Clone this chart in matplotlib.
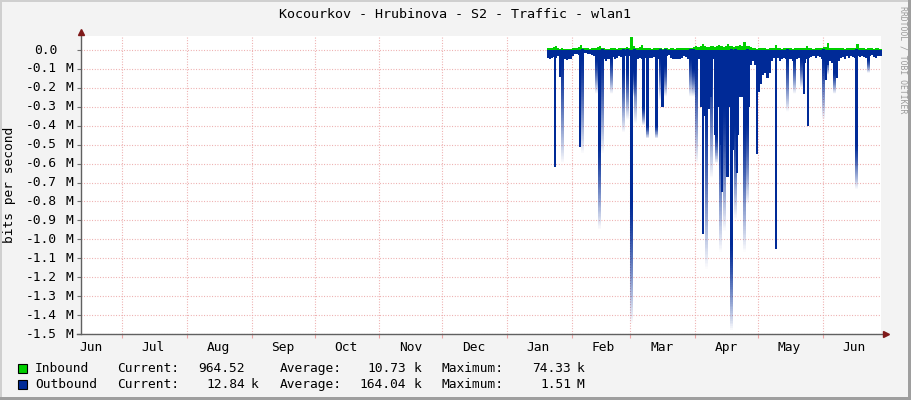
import numpy as np
import pandas as pd
import matplotlib
matplotlib.use('Agg')
import matplotlib.pyplot as plt
import matplotlib.dates as mdates
from matplotlib.patches import Rectangle

plt.rcParams['font.family'] = 'DejaVu Sans Mono'

W, H = 911, 400

# daily traffic from 2021-01-20 to 2021-06-28, in Mbit/s (outbound is drawn below zero)
first_day = '2021-01-20'
outbound = [
    -0.04, -0.045, -0.04, -0.035, -0.04, -0.03, -0.035, -0.03, -0.05, -0.055,
    -0.05, -0.045, -0.03, -0.02, -0.02, -0.025, -0.02, -0.02, -0.015, -0.02,
    -0.02, -0.025, -0.03, -0.04, -0.05, -0.035, -0.04, -0.05, -0.06, -0.045,
    -0.04, -0.035, -0.05, -0.04, -0.03, -0.035, -0.03, -0.03, -0.025, -0.03,
    -0.03, -0.04, -0.035, -0.05, -0.04, -0.045, -0.06, -0.04, -0.05, -0.04,
    -0.04, -0.035, -0.04, -0.045, -0.05, -0.06, -0.04, -0.03, -0.025, -0.04,
    -0.05, -0.05, -0.045, -0.05, -0.04, -0.03, -0.035, -0.05, -0.04, -0.05,
    -0.05, -0.06, -0.05, -0.3, -0.32, -0.35, -0.3, -0.31, -0.25, -0.05,
    -0.45, -0.4, -0.3, -0.5, -0.3, -0.3, -0.45, -0.3, -0.5, -0.4,
    -0.35, -0.45, -0.25, -0.25, -0.35, -0.38, -0.3, -0.08, -0.06, -0.08,
    -0.1, -0.22, -0.18, -0.13, -0.12, -0.15, -0.12, -0.06, -0.04, -0.06,
    -0.04, -0.06, -0.05, -0.04, -0.05, -0.04, -0.05, -0.06, -0.05, -0.045,
    -0.04, -0.05, -0.06, -0.07, -0.05, -0.04, -0.035, -0.03, -0.04, -0.03,
    -0.035, -0.05, -0.06, -0.04, -0.08, -0.06, -0.07, -0.05, -0.04, -0.06,
    -0.04, -0.035, -0.05, -0.03, -0.04, -0.03, -0.035, -0.04, -0.03, -0.035,
    -0.03, -0.035, -0.04, -0.03, -0.03, -0.025, -0.035, -0.04, -0.03, -0.03,
]
inbound = [
    0.008, 0.01, 0.012, 0.015, 0.023, 0.01, 0.006, 0.008, 0.005, 0.006,
    0.007, 0.006, 0.008, 0.01, 0.012, 0.015, 0.026, 0.012, 0.008, 0.01,
    0.006, 0.008, 0.01, 0.012, 0.015, 0.021, 0.01, 0.008, 0.006, 0.007,
    0.008, 0.012, 0.01, 0.006, 0.008, 0.01, 0.012, 0.01, 0.015, 0.012,
    0.07, 0.02, 0.01, 0.012, 0.015, 0.026, 0.012, 0.01, 0.008, 0.01,
    0.006, 0.008, 0.01, 0.012, 0.008, 0.006, 0.01, 0.008, 0.007, 0.01,
    0.008, 0.006, 0.01, 0.012, 0.008, 0.01, 0.012, 0.008, 0.01, 0.012,
    0.015, 0.02, 0.018, 0.022, 0.03, 0.02, 0.018, 0.015, 0.02, 0.022,
    0.018, 0.02, 0.025, 0.022, 0.018, 0.02, 0.03, 0.022, 0.02, 0.018,
    0.02, 0.022, 0.025, 0.02, 0.044, 0.022, 0.02, 0.018, 0.01, 0.008,
    0.006, 0.008, 0.01, 0.012, 0.008, 0.006, 0.008, 0.01, 0.012, 0.026,
    0.01, 0.008, 0.006, 0.008, 0.01, 0.012, 0.008, 0.006, 0.008, 0.01,
    0.012, 0.01, 0.008, 0.01, 0.02, 0.012, 0.008, 0.006, 0.008, 0.01,
    0.01, 0.012, 0.014, 0.015, 0.035, 0.012, 0.01, 0.008, 0.01, 0.012,
    0.01, 0.008, 0.006, 0.008, 0.01, 0.012, 0.01, 0.008, 0.03, 0.012,
    0.01, 0.008, 0.006, 0.008, 0.01, 0.008, 0.006, 0.01, 0.008, 0.006,
]

# short outbound peaks: day of year 2021, depth drawn solid, depth where it fades out
spike_day = [22.9, 25.3, 26.3, 34.9, 35.8, 42.5, 43.9, 45.2, 49.9, 55.4,
             57.3, 59.3, 60.5, 61.3, 65.2, 67.0, 71.0, 73.0, 74.3, 75.3,
             87.7, 88.7, 90.2, 93.8, 95.1, 97.6, 99.7, 102.0, 102.9, 103.8,
             105.4, 107.0, 108.0, 109.1, 110.1, 113.4, 114.7, 119.6, 128.6, 133.8,
             137.3, 140.5, 141.8, 143.8, 151.0, 152.4, 153.1, 156.1, 157.8, 167.0,
             172.7]
spike_solid = [-0.616, -0.14, -0.05, -0.51, -0.05, -0.05, -0.5, -0.05, -0.05, -0.1,
               -0.1, -0.8, -0.11, -0.05, -0.3, -0.4, -0.4, -0.05, -0.3, -0.08,
               -0.05, -0.1, -0.06, -0.97, -0.3, -0.1, -0.45, -0.35, -0.75, -0.3,
               -0.67, -1.03, -0.53, -0.4, -0.65, -0.4, -0.38, -0.55, -1.05, -0.05,
               -0.05, -0.05, -0.23, -0.4, -0.05, -0.16, -0.05, -0.12, -0.15, -0.5,
               -0.05]
spike_fade = [-0.616, -0.14, -0.6, -0.51, -0.55, -0.23, -0.95, -0.55, -0.23, -0.44,
              -0.37, -1.45, -0.25, -0.39, -0.4, -0.47, -0.47, -0.27, -0.3, -0.25,
              -0.25, -0.25, -0.6, -0.97, -1.16, -0.68, -0.6, -1.07, -0.75, -0.96,
              -0.67, -1.49, -0.53, -0.9, -0.65, -1.07, -0.82, -0.55, -1.05, -0.33,
              -0.23, -0.2, -0.23, -0.4, -0.37, -0.16, -0.13, -0.23, -0.15, -0.74,
              -0.12]

y_ticks = [0.0, -0.1, -0.2, -0.3, -0.4, -0.5, -0.6, -0.7, -0.8, -0.9,
           -1.0, -1.1, -1.2, -1.3, -1.4, -1.5]

legend_names = ['Inbound', 'Outbound']
legend_colors = ['#00CF00', '#002A97']
cur_vals = ['964.52', '12.84']
cur_units = ['', 'k']
avg_vals = ['10.73', '164.04']
avg_units = ['k', 'k']
max_vals = ['74.33', '1.51']
max_units = ['k', 'M']

IN_COL = '#00CF00'
OUT_COL = '#002A97'
GRID_COL = '#eba3a3'
FS = 9.3
SPIKE_W = 1.0


def fx(x):
    return x / W


def fy(y):
    return 1 - y / H


fig = plt.figure(figsize=(W / 100, H / 100), dpi=100, facecolor='#F3F3F3')

# rrdtool style frame
fig.patches.append(Rectangle((0, fy(2)), 1, 2 / H, transform=fig.transFigure, color='#CFCFCF', lw=0))
fig.patches.append(Rectangle((0, 0), 2 / W, 1, transform=fig.transFigure, color='#CFCFCF', lw=0))
fig.patches.append(Rectangle((0, 0), 1, 3 / H, transform=fig.transFigure, color='#9E9E9E', lw=0))
fig.patches.append(Rectangle((fx(908), 0), 3 / W, 1, transform=fig.transFigure, color='#9E9E9E', lw=0))

left, right, top, bottom = 81, 880.7, 36, 334
ax = fig.add_axes([fx(left), fy(bottom), fx(right - left), (bottom - top) / H])
ax.set_facecolor('white')

jan1 = pd.Timestamp('2021-01-01')
days = pd.date_range(first_day, periods=len(outbound) + 1, freq='D')
out_arr = np.append(outbound, outbound[-1])
in_arr = np.append(inbound, inbound[-1])

ax.fill_between(days, in_arr, 0, step='post', color=IN_COL, lw=0, zorder=2)
ax.fill_between(days, out_arr, 0, step='post', color=OUT_COL, lw=0, zorder=3)

x0 = mdates.date2num(jan1)
n_rows = 150
for d, s, f in zip(spike_day, spike_solid, spike_fade):
    xc = x0 + d
    if f >= s:
        ax.bar(xc, s, width=SPIKE_W, bottom=0, color=OUT_COL, lw=0, zorder=3)
        continue
    # one image from zero down to the tip: solid part, then fading out
    yv = np.linspace(0, f, n_rows)
    tt = np.clip((yv - s) / (f - s), 0, 1)
    img = np.zeros((n_rows, 1, 4))
    img[:, 0, 1] = 42 / 255
    img[:, 0, 2] = 151 / 255
    img[:, 0, 3] = 1 - tt ** 1.4
    ax.imshow(img, extent=[xc - SPIKE_W / 2, xc + SPIKE_W / 2, f, 0], origin='upper',
              aspect='auto', interpolation='nearest', zorder=3)

ax.set_xlim(x0 - 203.6, x0 + 178.6)
ax.set_ylim(-1.5, 0.074)

# grid
ax.xaxis.set_major_locator(mdates.MonthLocator(bymonthday=1))
ax.xaxis.set_minor_locator(mdates.MonthLocator(bymonthday=16))
ax.xaxis.set_major_formatter(plt.NullFormatter())
ax.xaxis.set_minor_formatter(mdates.DateFormatter('%b'))
ax.set_yticks(y_ticks)
ax.set_yticklabels([])
ax.grid(True, which='major', color=GRID_COL, lw=0.8, linestyle=(0, (0.8, 1.6)), zorder=1)
ax.tick_params(axis='x', which='major', length=3, color=GRID_COL, width=0.8)
ax.tick_params(axis='x', which='minor', length=0, pad=5, labelsize=FS)
ax.tick_params(axis='y', which='major', length=3, color='#707070', width=0.8)
for sp in ax.spines.values():
    sp.set_visible(False)

# axes with arrows
ax.plot([0, 0], [0, 1 + 4 / 298], transform=ax.transAxes, color='#606060', lw=1, clip_on=False, zorder=5)
ax.plot([-4 / 800, 1 + 5 / 800], [0, 0], transform=ax.transAxes, color='#606060', lw=1, clip_on=False, zorder=5)
ax.plot([0], [1 + 4 / 298], transform=ax.transAxes, marker='^', ms=4.5, color='#7F1A1A', clip_on=False, zorder=6)
ax.plot([1 + 5 / 800], [0], transform=ax.transAxes, marker='>', ms=4.5, color='#7F1A1A', clip_on=False, zorder=6)

ytr = ax.get_yaxis_transform()
for v in y_ticks:
    ax.text((57 - left) / 800, v, f'{v:.1f}', transform=ytr, ha='right', va='center', fontsize=FS)
    if v != 0:
        ax.text((65 - left) / 800, v, 'M', transform=ytr, ha='left', va='center', fontsize=FS)

fig.text(fx(455), fy(14), 'Kocourkov - Hrubinova - S2 - Traffic - wlan1', ha='center', va='center', fontsize=9.6)
fig.text(fx(10), fy(185), 'bits per second', rotation=90, ha='center', va='center', fontsize=FS)
fig.text(fx(903), fy(60), 'RRDTOOL / TOBI OETIKER', rotation=270, ha='center', va='center', fontsize=5.9, color='#9A9A9A')

# legend
rows_y = [368.3, 384.3]
for i in range(2):
    yy = rows_y[i]
    fig.patches.append(Rectangle((fx(17.5), fy(yy + 4.5)), 9 / W, 9 / H, transform=fig.transFigure,
                                 facecolor=legend_colors[i], edgecolor='black', lw=0.8))
    fig.text(fx(35), fy(yy), legend_names[i], ha='left', va='center', fontsize=FS)
    fig.text(fx(116.7), fy(yy), 'Current:', ha='left', va='center', fontsize=FS)
    fig.text(fx(245), fy(yy), cur_vals[i], ha='right', va='center', fontsize=FS)
    fig.text(fx(251), fy(yy), cur_units[i], ha='left', va='center', fontsize=FS)
    fig.text(fx(279.3), fy(yy), 'Average:', ha='left', va='center', fontsize=FS)
    fig.text(fx(406), fy(yy), avg_vals[i], ha='right', va='center', fontsize=FS)
    fig.text(fx(413.5), fy(yy), avg_units[i], ha='left', va='center', fontsize=FS)
    fig.text(fx(441.7), fy(yy), 'Maximum:', ha='left', va='center', fontsize=FS)
    fig.text(fx(571), fy(yy), max_vals[i], ha='right', va='center', fontsize=FS)
    fig.text(fx(576.5), fy(yy), max_units[i], ha='left', va='center', fontsize=FS)

fig.savefig('out.png', dpi=100, facecolor=fig.get_facecolor())
